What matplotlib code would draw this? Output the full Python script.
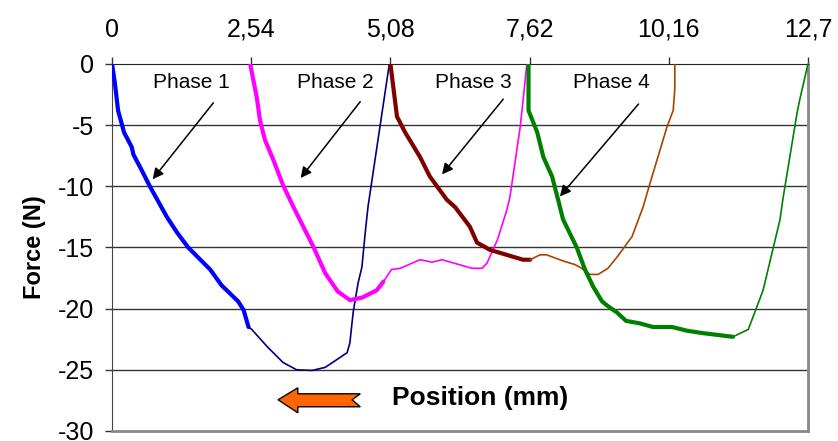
import matplotlib
matplotlib.use("Agg")
import matplotlib.pyplot as plt
from matplotlib.patches import Polygon

plt.rcParams['font.family'] = ['Liberation Sans', 'DejaVu Sans']
plt.rcParams['axes.unicode_minus'] = False

# Phase 1: loading (thick) then unloading (thin)
p1_x = [0.0, 0.05, 0.11, 0.22, 0.36, 0.39, 0.52, 0.69, 1.0, 1.19, 1.39, 1.79, 2.0, 2.3, 2.4, 2.49]
p1_y = [0.0, -1.5, -3.8, -5.6, -6.8, -7.4, -8.5, -10.0, -12.5, -13.8, -15.0, -16.8, -18.1, -19.4, -20.1, -21.5]
p1r_x = [2.49, 2.55, 2.83, 3.12, 3.37, 3.65, 3.89, 4.29, 4.34, 4.4, 4.49, 4.56, 4.62, 4.67, 5.06]
p1r_y = [-21.5, -21.7, -23.1, -24.4, -25.0, -25.05, -24.8, -23.6, -22.8, -20.3, -17.9, -16.6, -13.8, -11.7, 0.0]

# Phase 2
p2_x = [2.52, 2.64, 2.7, 2.79, 2.94, 3.12, 3.3, 3.49, 3.67, 3.89, 4.12, 4.34, 4.56, 4.83, 4.95]
p2_y = [0.0, -2.7, -4.6, -6.2, -7.8, -9.9, -11.6, -13.3, -14.9, -17.1, -18.6, -19.3, -19.1, -18.5, -17.8]
p2r_x = [4.95, 5.1, 5.26, 5.62, 5.84, 6.02, 6.57, 6.75, 6.84, 7.03, 7.2, 7.26, 7.45, 7.57]
p2r_y = [-17.8, -16.8, -16.7, -16.0, -16.2, -16.0, -16.7, -16.7, -16.3, -14.4, -12.0, -10.9, -5.1, 0.0]

# Phase 3
p3_x = [5.08, 5.2, 5.35, 5.62, 5.8, 6.11, 6.26, 6.53, 6.66, 6.9, 7.2, 7.5, 7.63]
p3_y = [0.0, -4.3, -5.6, -7.6, -9.2, -11.1, -11.7, -13.3, -14.6, -15.2, -15.6, -16.0, -16.0]
p3r_x = [7.63, 7.81, 7.93, 8.23, 8.45, 8.57, 8.72, 8.87, 9.05, 9.23, 9.49, 9.69, 9.82, 10.13, 10.24, 10.27, 10.27]
p3r_y = [-16.0, -15.6, -15.6, -16.1, -16.4, -16.7, -17.2, -17.2, -16.7, -15.7, -14.1, -11.7, -9.7, -5.1, -3.8, -2.0, 0.0]

# Phase 4
p4_x = [7.6, 7.6, 7.76, 7.87, 8.03, 8.14, 8.23, 8.48, 8.63, 8.78, 8.94, 9.05, 9.21, 9.38, 9.63, 9.87, 10.22, 10.49, 10.78, 11.33]
p4_y = [0.0, -3.8, -5.6, -7.6, -9.2, -11.1, -12.7, -15.0, -16.8, -18.2, -19.4, -19.8, -20.3, -21.0, -21.2, -21.5, -21.5, -21.8, -22.0, -22.3]
p4r_x = [11.33, 11.61, 11.88, 12.19, 12.24, 12.5, 12.55, 12.7]
p4r_y = [-22.3, -21.7, -18.5, -12.7, -11.1, -4.0, -2.9, 0.0]

x_ticks = [0, 2.54, 5.08, 7.62, 10.16, 12.7]
x_labels = ["0", "2,54", "5,08", "7,62", "10,16", "12,7"]
y_ticks = [0, -5, -10, -15, -20, -25, -30]

phase_labels = ["Phase 1", "Phase 2", "Phase 3", "Phase 4"]
label_x = [1.44, 4.07, 6.59, 9.11]
arrow_tail = [(1.88, -3.0), (4.56, -2.9), (7.17, -2.7), (9.64, -3.1)]
arrow_head = [(0.71, -9.6), (3.41, -9.5), (5.99, -9.2), (8.14, -11.0)]

fig = plt.figure(figsize=(8.38, 4.41), dpi=100)
ax = fig.add_axes([0.1337, 0.0227, 0.8305, 0.8322])

ax.plot(p1_x, p1_y, color="#0000FF", lw=3.0, solid_capstyle="round", zorder=3)
ax.plot(p1r_x, p1r_y, color="#000080", lw=1.2, zorder=3)
ax.plot(p2_x, p2_y, color="#FF00FF", lw=3.0, solid_capstyle="round", zorder=3)
ax.plot(p2r_x, p2r_y, color="#FF00FF", lw=1.2, zorder=3)
ax.plot(p3_x, p3_y, color="#800000", lw=3.0, solid_capstyle="round", zorder=3)
ax.plot(p3r_x, p3r_y, color="#A84400", lw=1.2, zorder=3)
ax.plot(p4_x, p4_y, color="#008000", lw=3.0, solid_capstyle="round", zorder=3)
ax.plot(p4r_x, p4r_y, color="#008000", lw=1.2, zorder=3)

ax.set_xlim(0, 12.7)
ax.set_ylim(-30, 0)
ax.xaxis.tick_top()
ax.set_xticks(x_ticks)
ax.set_xticklabels(x_labels)
ax.set_yticks(y_ticks)
ax.tick_params(axis="both", labelsize=18, length=5, width=1, color="#333333", direction="out")
ax.tick_params(axis="x", pad=11)
ax.tick_params(axis="y", pad=8)

for yv in y_ticks[1:-1]:
    ax.axhline(yv, color="#333333", lw=1.0, zorder=1)

ax.spines["top"].set_color("#222222")
ax.spines["left"].set_color("#444444")
ax.spines["right"].set_color("#888888")
ax.spines["bottom"].set_color("#888888")
ax.spines["right"].set_linewidth(2)
ax.spines["bottom"].set_linewidth(2)

for txt, tx, tail, head in zip(phase_labels, label_x, arrow_tail, arrow_head):
    ax.text(tx, -1.55, txt, ha="center", va="center", fontsize=15)
    ax.annotate("", xy=head, xytext=tail,
                arrowprops=dict(arrowstyle="-|>", color="black", lw=1.1, mutation_scale=16))

ax.set_ylabel("Force (N)", fontsize=17, fontweight="bold", labelpad=8)
ax.text(6.72, -27.3, "Position (mm)", ha="center", va="center", fontsize=19, fontweight="bold")

arrow_shape = [(3.03, -27.45), (3.39, -26.47), (3.39, -26.96), (4.53, -26.96), (4.38, -27.45),
               (4.53, -28.02), (3.39, -28.02), (3.39, -28.51)]
ax.add_patch(Polygon(arrow_shape, closed=True, facecolor="#FF6600", edgecolor="black", lw=1.0, zorder=4))

fig.savefig("out.png", dpi=100)
